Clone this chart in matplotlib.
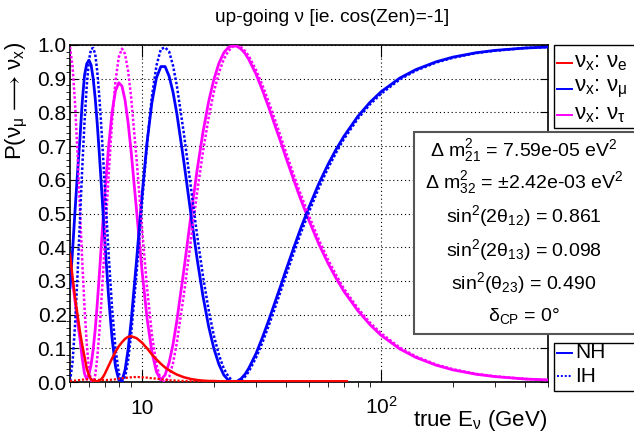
import matplotlib

matplotlib.use("Agg")
import matplotlib.pyplot as plt
from matplotlib.lines import Line2D
from matplotlib.patches import Rectangle
from matplotlib.ticker import FixedLocator, MultipleLocator, NullFormatter

# ---- data (true E_nu in GeV, probabilities) ----
energy = [5.0, 5.125, 5.25, 5.375, 5.5, 5.625, 5.75, 5.875, 6.0, 6.125, 6.25, 6.375,
          6.5, 6.625, 6.75, 6.875, 7.0, 7.25, 7.5, 7.75, 8.0, 8.25, 8.5, 8.75, 9.0,
          9.5, 10, 10.5, 11, 11.5, 12, 12.5, 13, 13.5, 14, 15, 16, 17, 18, 19, 20,
          21, 22, 23, 24, 25, 26, 27, 28, 30, 32, 34, 36, 38, 40, 43, 46, 50, 55,
          60, 65, 70, 80, 90, 100, 120, 140, 170, 200, 250, 300, 400, 500]

p_mu_nh = [0.28, 0.39, 0.51, 0.62, 0.72, 0.83, 0.91, 0.944, 0.955, 0.941, 0.901, 0.842,
           0.767, 0.683, 0.593, 0.502, 0.413, 0.254, 0.129, 0.046, 0.006, 0.004, 0.036,
           0.096, 0.176, 0.363, 0.551, 0.710, 0.828, 0.903, 0.936, 0.936, 0.907, 0.859,
           0.796, 0.650, 0.502, 0.367, 0.255, 0.166, 0.099, 0.052, 0.021, 0.005, 0.000,
           0.002, 0.010, 0.023, 0.041, 0.084, 0.134, 0.185, 0.236, 0.284, 0.331, 0.395,
           0.453, 0.519, 0.589, 0.645, 0.691, 0.729, 0.788, 0.830, 0.861, 0.902, 0.927,
           0.950, 0.964, 0.977, 0.984, 0.991, 0.994]

p_tau_nh = [0.34, 0.30, 0.24, 0.18, 0.13, 0.07, 0.025, 0.008, 0.022, 0.051, 0.096, 0.156,
            0.231, 0.313, 0.399, 0.483, 0.562, 0.698, 0.801, 0.864, 0.888, 0.878, 0.836,
            0.770, 0.688, 0.507, 0.332, 0.190, 0.090, 0.030, 0.006, 0.021, 0.058, 0.113,
            0.182, 0.336, 0.489, 0.627, 0.741, 0.831, 0.898, 0.946, 0.977, 0.993, 0.998,
            0.996, 0.988, 0.975, 0.957, 0.914, 0.864, 0.813, 0.762, 0.714, 0.667, 0.603,
            0.545, 0.479, 0.409, 0.353, 0.307, 0.269, 0.212, 0.170, 0.139, 0.098, 0.073,
            0.050, 0.036, 0.023, 0.016, 0.009, 0.006]

p_mu_ih = [0.003, 0.059, 0.170, 0.317, 0.478, 0.634, 0.771, 0.879, 0.954, 0.988, 0.991,
           0.973, 0.922, 0.851, 0.766, 0.671, 0.573, 0.383, 0.219, 0.099, 0.026, 0.000,
           0.015, 0.064, 0.137, 0.326, 0.527, 0.706, 0.846, 0.939, 0.988, 0.993, 0.980,
           0.938, 0.879, 0.734, 0.581, 0.438, 0.315, 0.215, 0.137, 0.080, 0.040, 0.016,
           0.003, 0.000, 0.005, 0.016, 0.031, 0.072, 0.119, 0.169, 0.219, 0.268, 0.315,
           0.380, 0.438, 0.505, 0.576, 0.634, 0.681, 0.721, 0.781, 0.824, 0.855, 0.898,
           0.924, 0.948, 0.962, 0.976, 0.983, 0.991, 0.994]

p_tau_ih = [0.994, 0.937, 0.826, 0.678, 0.516, 0.359, 0.222, 0.113, 0.038, 0.004, 0.002,
            0.020, 0.071, 0.143, 0.228, 0.323, 0.421, 0.611, 0.774, 0.893, 0.964, 0.989,
            0.973, 0.923, 0.849, 0.659, 0.459, 0.281, 0.143, 0.051, 0.004, 0.000, 0.015,
            0.057, 0.117, 0.263, 0.417, 0.560, 0.683, 0.783, 0.861, 0.918, 0.958, 0.982,
            0.995, 0.998, 0.993, 0.982, 0.967, 0.926, 0.879, 0.829, 0.779, 0.730, 0.683,
            0.618, 0.560, 0.493, 0.422, 0.364, 0.317, 0.277, 0.219, 0.176, 0.145, 0.102,
            0.076, 0.052, 0.038, 0.024, 0.017, 0.009, 0.006]

# the nu_e curves stop at ~72 GeV in the reference
energy_e = [5.0, 5.125, 5.25, 5.375, 5.5, 5.625, 5.75, 5.875, 6.0, 6.125, 6.25, 6.375,
            6.5, 6.625, 6.75, 6.875, 7.0, 7.25, 7.5, 7.75, 8.0, 8.25, 8.5, 8.75, 9.0,
            9.5, 10, 10.5, 11, 11.5, 12, 12.5, 13, 13.5, 14, 15, 16, 17, 18, 19, 20,
            21, 22, 23, 24, 25, 26, 27, 28, 30, 32, 34, 36, 38, 40, 43, 46, 50, 55,
            60, 65, 70, 72]

p_e_nh = [0.38, 0.31, 0.25, 0.20, 0.15, 0.11, 0.075, 0.04, 0.02, 0.008, 0.003, 0.002,
          0.002, 0.004, 0.008, 0.015, 0.025, 0.048, 0.070, 0.090, 0.106, 0.118, 0.128,
          0.134, 0.136, 0.130, 0.117, 0.100, 0.082, 0.067, 0.054, 0.043, 0.035, 0.028,
          0.022, 0.014, 0.009, 0.006, 0.004, 0.003, 0.003, 0.002, 0.002, 0.002, 0.002,
          0.002, 0.002, 0.002, 0.002, 0.002, 0.002, 0.002, 0.002, 0.002, 0.002, 0.002,
          0.002, 0.002, 0.002, 0.002, 0.002, 0.002, 0.002]

p_e_ih = [0.003, 0.004, 0.004, 0.005, 0.006, 0.007, 0.007, 0.008, 0.008, 0.008, 0.007,
          0.007, 0.007, 0.006, 0.006, 0.006, 0.006, 0.006, 0.007, 0.008, 0.010, 0.011,
          0.012, 0.013, 0.014, 0.015, 0.014, 0.013, 0.011, 0.010, 0.008, 0.007, 0.005,
          0.005, 0.004, 0.003, 0.002, 0.002, 0.002, 0.002, 0.002, 0.002, 0.002, 0.002,
          0.002, 0.002, 0.002, 0.002, 0.002, 0.002, 0.002, 0.002, 0.002, 0.002, 0.002,
          0.002, 0.002, 0.002, 0.002, 0.002, 0.002, 0.002, 0.002]

y_ticks = [0.0, 0.1, 0.2, 0.3, 0.4, 0.5, 0.6, 0.7, 0.8, 0.9, 1.0]
param_lines = [
    r"Δ m$^{2}_{21}$ = 7.59e-05 eV$^{2}$",
    r"Δ m$^{2}_{32}$ = ±2.42e-03 eV$^{2}$",
    r"sin$^{2}$(2θ$_{12}$) = 0.861",
    r"sin$^{2}$(2θ$_{13}$) = 0.098",
    r"sin$^{2}$(θ$_{23}$) = 0.490",
    r"δ$_{CP}$ = 0°",
]
flavour_labels = [r"ν$_{x}$: ν$_{e}$", r"ν$_{x}$: ν$_{μ}$", r"ν$_{x}$: ν$_{τ}$"]
flavour_colors = ["#ff0000", "#0000ff", "#ff00ff"]

plt.rcParams["font.family"] = ["Liberation Sans", "DejaVu Sans"]
plt.rcParams["mathtext.fontset"] = "custom"
plt.rcParams["mathtext.rm"] = "Liberation Sans"
plt.rcParams["mathtext.default"] = "regular"

W, H = 634, 433


def fx(px):
    return px / W


def fy(py):
    return 1 - py / H


fig = plt.figure(figsize=(W / 100, H / 100), dpi=100)
ax = fig.add_axes([fx(70), fy(382), fx(548) - fx(70), fy(45) - fy(382)])

dotted = (0, (1, 0.8))
ax.plot(energy, p_tau_nh, color="#ff00ff", lw=2.0, zorder=3)
ax.plot(energy, p_mu_nh, color="#0000ff", lw=2.0, zorder=3)
ax.plot(energy_e, p_e_nh, color="#ff0000", lw=1.8, zorder=4)
ax.plot(energy, p_tau_ih, color="#ff00ff", lw=1.8, ls=dotted, zorder=3)
ax.plot(energy, p_mu_ih, color="#0000ff", lw=1.8, ls=dotted, zorder=3)
ax.plot(energy_e, p_e_ih, color="#ff0000", lw=1.6, ls=dotted, zorder=4)

ax.set_xscale("log")
ax.set_xlim(5, 500)
ax.set_ylim(0, 1)
ax.xaxis.set_major_locator(FixedLocator([10, 100]))
ax.xaxis.set_major_formatter(NullFormatter())
ax.xaxis.set_minor_formatter(NullFormatter())
ax.set_yticks(y_ticks)
ax.set_yticklabels([f"{v:.1f}" for v in y_ticks])
ax.yaxis.set_minor_locator(MultipleLocator(0.02))

ax.grid(True, which="major", color="black", ls=(0, (1, 2.5)), lw=0.8)
ax.tick_params(direction="in", top=True, right=True, width=0.8)
ax.tick_params(axis="x", which="major", length=8.5)
ax.tick_params(axis="x", which="minor", length=3.6)
ax.tick_params(axis="y", which="major", length=5.8, labelsize=15, pad=2.4)
ax.tick_params(axis="y", which="minor", length=2.9)
for s in ax.spines.values():
    s.set_linewidth(1.2)

# log-axis labels in ROOT style
ax.text(10, -0.095, "10", transform=ax.get_xaxis_transform(), ha="center",
        va="baseline", fontsize=15)
ax.text(100, -0.095, r"10$^{2}$", transform=ax.get_xaxis_transform(), ha="center",
        va="baseline", fontsize=15)

fig.text(fx(332), fy(22), "up-going ν [ie. cos(Zen)=-1]", ha="center", va="baseline",
         fontsize=13.8)
fig.text(fx(17), fy(42), r"$\mathregular{P(\nu_{\mu}\,\longrightarrow\,\nu_{x})}$",
         rotation=90, ha="center", va="top", fontsize=16, math_fontfamily="stixsans")
fig.text(fx(547), fy(426), r"true E$_{ν}$ (GeV)", ha="right", va="baseline", fontsize=16)


def box(x0, y0, x1, y1, ec="black", lw=1.0):
    r = Rectangle((fx(x0), fy(y1)), fx(x1) - fx(x0), fy(y0) - fy(y1),
                  transform=fig.transFigure, facecolor="white", edgecolor=ec,
                  lw=lw, zorder=5)
    fig.add_artist(r)


def legend_line(y, color, ls="-"):
    fig.add_artist(Line2D([fx(557), fx(572)], [fy(y), fy(y)], color=color, lw=1.4, ls=ls,
                          transform=fig.transFigure, zorder=6))


# flavour legend
box(554, 45, 640, 128)
for lab, col, yc in zip(flavour_labels, flavour_colors, [63, 89, 115]):
    legend_line(yc, col)
    fig.text(fx(574), fy(yc), lab, ha="left", va="center", fontsize=16, zorder=7)

# hierarchy legend
box(554, 343, 640, 391)
legend_line(353, "#0000ff")
legend_line(376, "#0000ff", ls=(0, (1, 1)))
fig.text(fx(575), fy(353), "NH", ha="left", va="center", fontsize=15, zorder=7)
fig.text(fx(575), fy(376), "IH", ha="left", va="center", fontsize=15, zorder=7)

# oscillation parameters
box(414, 132, 640, 334, ec="#555555", lw=1.5)
for line, yc in zip(param_lines, [151, 183, 216, 250, 283, 316]):
    fig.text(fx(524), fy(yc), line, ha="center", va="center", fontsize=14, zorder=7)

fig.savefig("out.png", dpi=100)
